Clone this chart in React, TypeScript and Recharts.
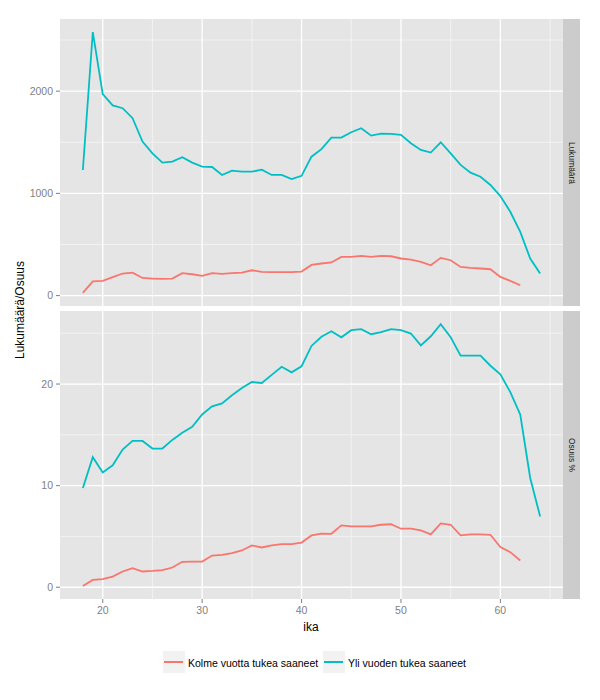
import React from 'react';
import { LineChart, Line, XAxis, YAxis, CartesianGrid } from 'recharts';

const ika = [18, 19, 20, 21, 22, 23, 24, 25, 26, 27, 28, 29, 30, 31, 32, 33, 34, 35, 36, 37, 38, 39, 40, 41, 42, 43, 44, 45, 46, 47, 48, 49, 50, 51, 52, 53, 54, 55, 56, 57, 58, 59, 60, 61, 62, 63, 64];

// Lukumäärä
const kolmeLkm = [26, 140, 144, 180, 216, 225, 173, 167, 163, 167, 219, 209, 193, 219, 212, 219, 225, 248, 232, 229, 229, 229, 235, 300, 314, 324, 379, 379, 389, 379, 389, 385, 363, 353, 330, 297, 369, 346, 281, 271, 265, 258, 183, 144, 101];
const yliLkm = [1229, 2578, 1970, 1860, 1833, 1735, 1507, 1392, 1301, 1310, 1353, 1301, 1261, 1258, 1180, 1222, 1212, 1212, 1232, 1180, 1180, 1140, 1172, 1359, 1433, 1546, 1546, 1598, 1637, 1565, 1585, 1582, 1572, 1490, 1425, 1399, 1500, 1392, 1278, 1203, 1163, 1082, 974, 820, 624, 363, 216];

// Osuus %
const kolmeOsuus = [0.13, 0.72, 0.79, 1.05, 1.55, 1.88, 1.55, 1.6, 1.68, 1.94, 2.5, 2.53, 2.53, 3.12, 3.19, 3.36, 3.62, 4.11, 3.91, 4.11, 4.24, 4.24, 4.4, 5.1, 5.28, 5.26, 6.09, 5.99, 5.99, 5.99, 6.15, 6.2, 5.76, 5.76, 5.6, 5.2, 6.28, 6.15, 5.1, 5.2, 5.2, 5.16, 3.95, 3.45, 2.63];
const yliOsuus = [9.77, 12.8, 11.3, 12.0, 13.55, 14.4, 14.4, 13.65, 13.65, 14.5, 15.2, 15.8, 17.0, 17.8, 18.1, 18.9, 19.6, 20.2, 20.1, 20.9, 21.7, 21.15, 21.75, 23.75, 24.65, 25.2, 24.6, 25.3, 25.4, 24.9, 25.1, 25.4, 25.3, 24.97, 23.8, 24.7, 25.9, 24.6, 22.8, 22.8, 22.8, 21.8, 20.95, 19.2, 17.0, 10.75, 6.97];

const xTicks = [20, 30, 40, 50, 60];
const xMinor = [25, 35, 45, 55, 65];
const lkmTicks = [0, 1000, 2000];
const lkmMinor = [500, 1500, 2500];
const osuusTicks = [0, 10, 20];
const osuusMinor = [5, 15, 25];

const seriesNames = ['Kolme vuotta tukea saaneet', 'Yli vuoden tukea saaneet'];
const stripLabels = ['Lukumäärä', 'Osuus %'];

const RED = '#F8766D';
const BLUE = '#00BFC4';
const FONT = "Arial, 'Liberation Sans', sans-serif";

const rows = ika.map((a, i) => ({
  ika: a,
  kolmeLkm: kolmeLkm[i],
  yliLkm: yliLkm[i],
  kolmeOsuus: kolmeOsuus[i],
  yliOsuus: yliOsuus[i],
}));

function expand(vals: number[]): [number, number] {
  const lo = Math.min(...vals);
  const hi = Math.max(...vals);
  const d = (hi - lo) * 0.05;
  return [lo - d, hi + d];
}

const xDomain = expand(ika);
const lkmDomain = expand([...kolmeLkm, ...yliLkm]);
const osuusDomain = expand([...kolmeOsuus, ...yliOsuus]);

const tickStyle = { fill: '#7F7F7F', fontSize: 10.5, fontFamily: FONT };

type PanelProps = {
  height: number;
  marginTop: number;
  showX: boolean;
  redKey: string;
  blueKey: string;
  yTicks: number[];
  yMinor: number[];
  yDomain: [number, number];
};

function Panel({ height, marginTop, showX, redKey, blueKey, yTicks, yMinor, yDomain }: PanelProps) {
  return (
    <LineChart
      width={600}
      height={height}
      data={rows}
      margin={{ top: marginTop, right: 37, bottom: 0, left: 0 }}
    >
      <CartesianGrid
        fill="#E5E5E5"
        stroke="#F2F2F2"
        strokeWidth={1}
        verticalValues={xMinor}
        horizontalValues={yMinor}
      />
      <CartesianGrid
        stroke="#FFFFFF"
        strokeWidth={1.3}
        verticalValues={xTicks}
        horizontalValues={yTicks}
      />
      <XAxis
        dataKey="ika"
        type="number"
        domain={xDomain}
        ticks={xTicks}
        hide={!showX}
        height={30}
        axisLine={false}
        tickSize={4}
        tickMargin={4}
        tickLine={{ stroke: '#7F7F7F' }}
        tick={tickStyle}
        allowDataOverflow
      />
      <YAxis
        type="number"
        domain={yDomain}
        ticks={yTicks}
        width={60}
        axisLine={false}
        tickSize={4}
        tickMargin={3}
        tickLine={{ stroke: '#7F7F7F' }}
        tick={tickStyle}
        allowDataOverflow
      />
      <Line
        dataKey={redKey}
        type="linear"
        stroke={RED}
        strokeWidth={1.8}
        dot={false}
        activeDot={false}
        isAnimationActive={false}
      />
      <Line
        dataKey={blueKey}
        type="linear"
        stroke={BLUE}
        strokeWidth={1.8}
        dot={false}
        activeDot={false}
        isAnimationActive={false}
      />
    </LineChart>
  );
}

function Strip({ top, height, label }: { top: number; height: number; label: string }) {
  return (
    <div
      style={{
        position: 'absolute',
        left: 563,
        top,
        width: 17,
        height,
        background: '#CCCCCC',
        display: 'flex',
        alignItems: 'center',
        justifyContent: 'center',
      }}
    >
      <span
        style={{
          writingMode: 'vertical-rl',
          fontFamily: FONT,
          fontSize: 8.4,
          color: '#1A1A1A',
          whiteSpace: 'nowrap',
        }}
      >
        {label}
      </span>
    </div>
  );
}

function LegendKey({ left, color, label }: { left: number; color: string; label: string }) {
  return (
    <>
      <div
        style={{
          position: 'absolute',
          left,
          top: 651,
          width: 22,
          height: 22,
          background: '#F2F2F2',
        }}
      >
        <div style={{ position: 'absolute', left: 1, top: 10, width: 19, height: 2, background: color }} />
      </div>
      <div
        style={{
          position: 'absolute',
          left: left + 25,
          top: 663,
          transform: 'translateY(-50%)',
          fontFamily: FONT,
          fontSize: 10.5,
          color: '#000',
          whiteSpace: 'nowrap',
        }}
      >
        {label}
      </div>
    </>
  );
}

export default function App() {
  return (
    <div
      style={{
        position: 'absolute',
        left: 0,
        top: 0,
        width: 600,
        height: 700,
        background: '#FFFFFF',
        overflow: 'hidden',
      }}
    >
      <div style={{ position: 'absolute', left: 0, top: 0 }}>
        <Panel
          height={306}
          marginTop={19}
          showX={false}
          redKey="kolmeLkm"
          blueKey="yliLkm"
          yTicks={lkmTicks}
          yMinor={lkmMinor}
          yDomain={lkmDomain}
        />
      </div>
      <div style={{ position: 'absolute', left: 0, top: 0 }}>
        <Panel
          height={629}
          marginTop={311}
          showX={true}
          redKey="kolmeOsuus"
          blueKey="yliOsuus"
          yTicks={osuusTicks}
          yMinor={osuusMinor}
          yDomain={osuusDomain}
        />
      </div>
      <Strip top={19} height={287} label={stripLabels[0]} />
      <Strip top={311} height={288} label={stripLabels[1]} />
      <div
        style={{
          position: 'absolute',
          left: 20,
          top: 310,
          transform: 'translate(-50%, -50%) rotate(-90deg)',
          fontFamily: FONT,
          fontSize: 12,
          color: '#000',
          whiteSpace: 'nowrap',
        }}
      >
        Lukumäärä/Osuus
      </div>
      <div
        style={{
          position: 'absolute',
          left: 311,
          top: 627,
          transform: 'translate(-50%, -50%)',
          fontFamily: FONT,
          fontSize: 12,
          color: '#000',
          whiteSpace: 'nowrap',
        }}
      >
        ika
      </div>
      <LegendKey left={163} color={RED} label={seriesNames[0]} />
      <LegendKey left={323} color={BLUE} label={seriesNames[1]} />
    </div>
  );
}
